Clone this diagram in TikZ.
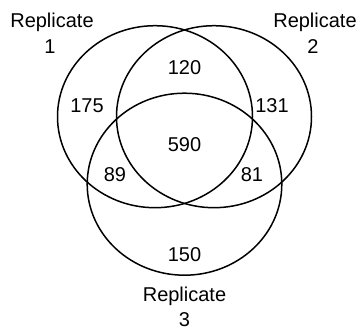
\documentclass[tikz,border=0pt]{standalone}
\usepackage{fontspec}
\setmainfont{Liberation Sans}
\begin{document}
\begin{tikzpicture}[x=1pt,y=-1pt,
  setline/.style={line width=1.5pt, draw=black},
  lbl/.style={font=\fontsize{20}{23}\selectfont, inner sep=0pt}]
\useasboundingbox (0,0) rectangle (362,329);
\draw[setline] (155,116.7) ellipse [x radius=97.5pt, y radius=91pt];
\draw[setline] (214,116.7) ellipse [x radius=97.5pt, y radius=91pt];
\draw[setline] (184.5,184.2) ellipse [x radius=97.3pt, y radius=91pt];
\node[lbl] (r1) at (52,22) {Replicate};
\node[lbl] (r1n) at (50,46.5) {1};
\node[lbl] (r2) at (315,22) {Replicate};
\node[lbl] (r2n) at (313,46.5) {2};
\node[lbl] (r3) at (184.5,296.5) {Replicate};
\node[lbl] (r3n) at (184.5,319.5) {3};
\node[lbl] (n120) at (184.5,68) {120};
\node[lbl] (n175) at (87,106) {175};
\node[lbl] (n131) at (272,106) {131};
\node[lbl] (n590) at (184.5,145) {590};
\node[lbl] (n89) at (115,175) {89};
\node[lbl] (n81) at (252,175) {81};
\node[lbl] (n150) at (184.5,255) {150};
\end{tikzpicture}
\end{document}
